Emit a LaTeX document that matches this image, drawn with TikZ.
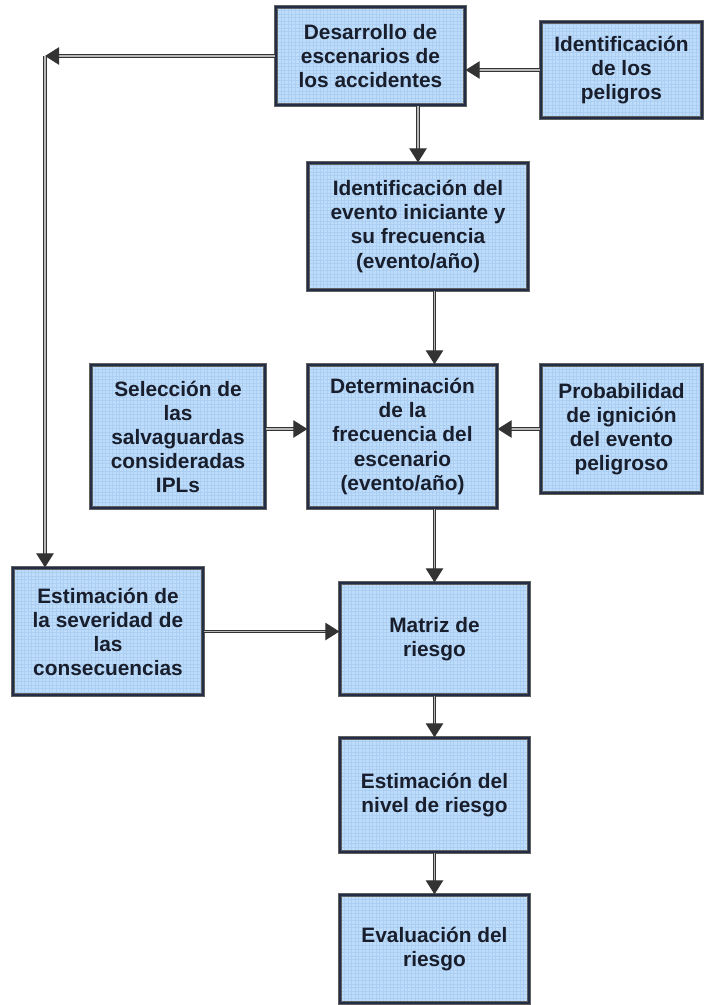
\documentclass[tikz,border=0pt]{standalone}
\usepackage{fontspec}
\setmainfont{Liberation Sans}
\usepackage{xcolor}
\usetikzlibrary{calc, positioning, arrows.meta, patterns}
\definecolor{boxfill}{RGB}{190,221,250}
\definecolor{boxgrid}{RGB}{172,206,242}
\definecolor{boxline}{RGB}{35,45,70}
\definecolor{textcol}{RGB}{25,30,45}

\begin{document}
\begin{tikzpicture}[x=0.03cm, y=-0.03cm,
  box/.style={draw=gray!75!black, double=boxline, double distance=1.2pt, line width=1pt, preaction={fill=boxfill}, preaction={pattern=grid, pattern color=boxgrid}, align=center, text=textcol, font=\fontsize{17.8}{20.5}\selectfont\bfseries, inner sep=2pt},
  conn/.style={draw=black!80, double=gray!55, double distance=1.3pt, line width=0.95pt, -{Triangle[length=0.42cm, width=0.52cm]}}]
\useasboundingbox (0,0) rectangle (704,1005);
\node[box, minimum width=5.67cm, minimum height=2.94cm] (DE) at (370.5,56) {Desarrollo de\\escenarios de\\los accidentes};
\node[box, minimum width=4.83cm, minimum height=2.88cm] (IP) at (621.5,70) {Identificación\\de los\\peligros};
\node[box, minimum width=6.6cm, minimum height=3.81cm] (IE) at (418,226.5) {Identificación del\\evento iniciante y\\su frecuencia\\(evento/año)};
\node[box, minimum width=5.67cm, minimum height=4.29cm] (DF) at (402.5,436.5) {Determinación\\de la\\frecuencia del\\escenario\\(evento/año)};
\node[box, minimum width=5.22cm, minimum height=4.29cm] (SS) at (178,436.5) {Selección de\\las\\salvaguardas\\consideradas\\IPLs};
\node[box, minimum width=4.83cm, minimum height=3.84cm] (PI) at (621.5,429) {Probabilidad\\de ignición\\del evento\\peligroso};
\node[box, minimum width=5.7cm, minimum height=3.81cm] (ES) at (108,631.5) {Estimación de\\la severidad de\\las\\consecuencias};
\node[box, minimum width=5.67cm, minimum height=3.36cm] (MR) at (434.5,639) {Matriz de\\riesgo};
\node[box, minimum width=5.67cm, minimum height=3.42cm] (EN) at (434.5,795) {Estimación del\\nivel de riesgo};
\node[box, minimum width=5.67cm, minimum height=3.24cm] (ER) at (434.5,949) {Evaluación del\\riesgo};
\coordinate (K) at (45,56);
\draw[conn] (IP.west) -- (IP.west -| DE.east);
\draw[conn] (DE.south -| IE.north) -- (IE.north);
\draw[conn] (IE.south -| MR.north) -- (DF.north -| MR.north);
\draw[conn] (SS.east |- PI.west) -- (DF.west |- PI.west);
\draw[conn] (PI.west) -- (PI.west -| DF.east);
\draw[conn] (DF.south -| MR.north) -- (MR.north);
\draw[conn] (ES.east) -- (ES.east -| MR.west);
\draw[conn] (MR.south) -- (EN.north);
\draw[conn] (EN.south) -- (ER.north);
\draw[conn] (DE.west) -- (K);
\draw[conn] (K) -- (K |- ES.north);
\end{tikzpicture}
\end{document}
